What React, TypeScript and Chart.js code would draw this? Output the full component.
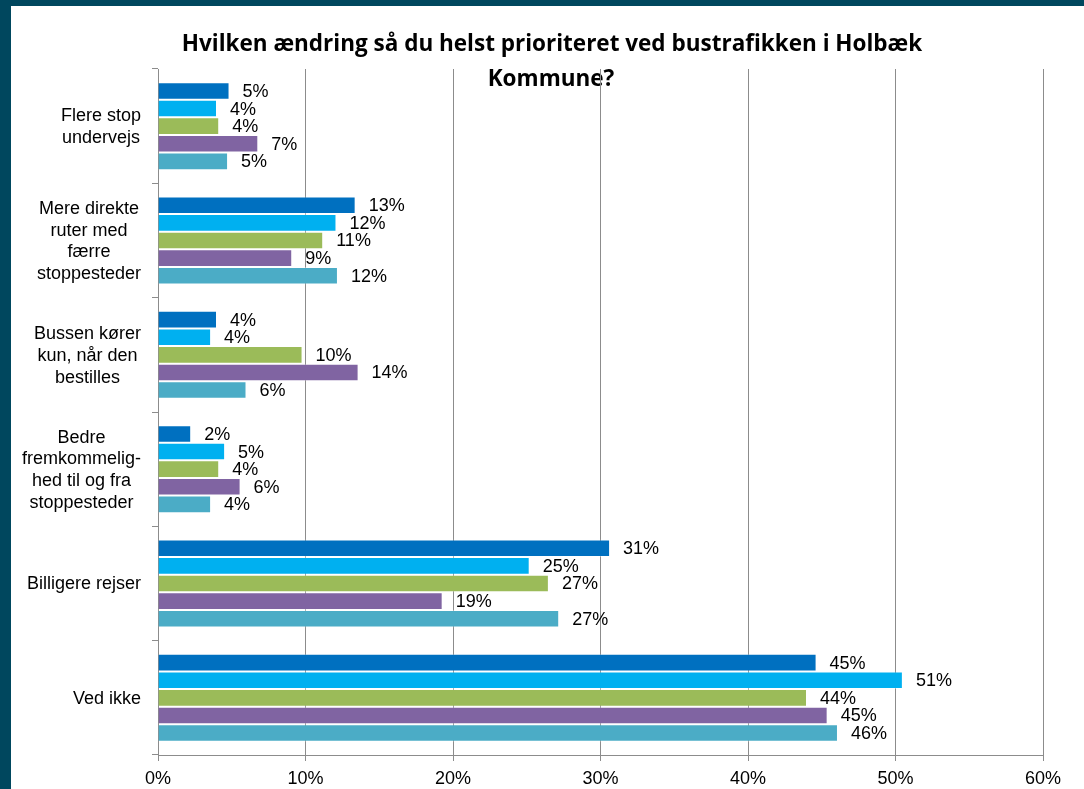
import React, { useEffect, useRef } from 'react';
import { Chart, registerables } from 'chart.js';

Chart.register(...registerables);

// ---- data ----
const categories: string[][] = [
  ['Flere stop', 'undervejs'],
  ['Mere direkte', 'ruter med', 'færre', 'stoppesteder'],
  ['Bussen kører', 'kun, når den', 'bestilles'],
  ['Bedre', 'fremkommelig-', 'hed til og fra', 'stoppesteder'],
  ['Billigere rejser'],
  ['Ved ikke'],
];

const seriesNames = ['Serie 1', 'Serie 2', 'Serie 3', 'Serie 4', 'Serie 5'];

const series1 = [4.85, 13.4, 4.0, 2.25, 30.65, 44.65];
const series2 = [4.0, 12.1, 3.6, 4.55, 25.2, 50.5];
const series3 = [4.15, 11.2, 9.8, 4.15, 26.5, 44.0];
const series4 = [6.8, 9.1, 13.6, 5.6, 19.3, 45.4];
const series5 = [4.75, 12.2, 6.0, 3.6, 27.2, 46.1];

const seriesColors = ['#0070C0', '#00B0F0', '#9BBB59', '#8064A2', '#4BACC6'];

const xMin = 0;
const xMax = 60;
const xStep = 10;

const titleLines = [
  'Hvilken ændring så du helst prioriteret ved bustrafikken i Holbæk',
  'Kommune?',
];

const FONT = '"Liberation Sans", Arial, sans-serif';

export default function App() {
  const ref = useRef<HTMLCanvasElement | null>(null);

  useEffect(() => {
    if (!ref.current) return;
    const allSeries = [series1, series2, series3, series4, series5];

    const framePlugin = {
      id: 'frameTitle',
      beforeDraw(chart: any) {
        const { ctx, width, height } = chart;
        ctx.save();
        ctx.fillStyle = '#ffffff';
        ctx.fillRect(0, 0, width, height);
        ctx.fillStyle = '#00475E';
        ctx.fillRect(0, 0, width, 6);
        ctx.fillRect(0, 0, 11, height);
        ctx.fillStyle = '#000000';
        ctx.font = 'bold 22.5px "Open Sans", sans-serif';
        ctx.textAlign = 'center';
        ctx.textBaseline = 'alphabetic';
        ctx.fillText(titleLines[0], 552, 51);
        ctx.fillText(titleLines[1], 551, 86);
        ctx.restore();
      },
    };

    const labelsPlugin = {
      id: 'valueLabels',
      afterDatasetsDraw(chart: any) {
        const { ctx } = chart;
        ctx.save();
        ctx.font = '18px ' + FONT;
        ctx.fillStyle = '#000000';
        ctx.textAlign = 'left';
        ctx.textBaseline = 'middle';
        chart.data.datasets.forEach((ds: any, i: number) => {
          const meta = chart.getDatasetMeta(i);
          meta.data.forEach((el: any, j: number) => {
            const v = ds.data[j] as number;
            ctx.fillText(Math.round(v) + '%', el.x + 13, el.y + 1);
          });
        });
        // category labels: block right-aligned, lines centered
        const yScale = chart.scales.y;
        const right = chart.chartArea.left - 17;
        const lh = 21.7;
        ctx.textAlign = 'center';
        categories.forEach((lines, i) => {
          const cy = yScale.getPixelForValue(i);
          let maxW = 0;
          lines.forEach((l) => {
            maxW = Math.max(maxW, ctx.measureText(l).width);
          });
          const cx = right - maxW / 2;
          lines.forEach((l, k) => {
            const y = cy + (k - (lines.length - 1) / 2) * lh;
            ctx.fillText(l, cx, y + 1);
          });
        });
        ctx.restore();
      },
    };

    const chart = new Chart(ref.current, {
      type: 'bar',
      data: {
        labels: categories.map((c) => c.join(' ')),
        datasets: allSeries.map((d, i) => ({
          label: seriesNames[i],
          data: d,
          backgroundColor: seriesColors[i],
          borderColor: 'rgba(255,255,255,0.35)',
          borderWidth: 1,
          barPercentage: 1,
          categoryPercentage: 0.77,
        })),
      },
      options: {
        indexAxis: 'y',
        responsive: false,
        animation: false,
        devicePixelRatio: 1,
        layout: { padding: { top: 69, right: 41, left: 0, bottom: 0 } },
        plugins: {
          legend: { display: false },
          title: { display: false },
          tooltip: { enabled: false },
        },
        scales: {
          x: {
            type: 'linear',
            min: xMin,
            max: xMax,
            ticks: {
              stepSize: xStep,
              callback: (v: any) => v + '%',
              font: { family: FONT, size: 18 },
              color: '#000000',
              padding: 7,
            },
            grid: {
              color: '#8C8C8C',
              lineWidth: 1,
              tickLength: 6,
              drawTicks: true,
            },
            border: { display: true, color: '#8C8C8C', width: 1 },
            afterFit: (scale: any) => {
              scale.height = 34;
            },
          },
          y: {
            type: 'category',
            ticks: { display: false },
            grid: {
              display: true,
              drawOnChartArea: false,
              drawTicks: true,
              tickLength: 6,
              color: '#8C8C8C',
              offset: true,
            },
            border: { display: true, color: '#8C8C8C', width: 1 },
            afterFit: (scale: any) => {
              scale.width = 158;
            },
          },
        },
      } as any,
      plugins: [framePlugin, labelsPlugin],
    });

    return () => {
      chart.destroy();
    };
  }, []);

  return (
    <div style={{ position: 'absolute', left: 0, top: 0, width: 1084, height: 789 }}>
      <canvas ref={ref} width={1084} height={789} style={{ display: 'block' }} />
    </div>
  );
}
